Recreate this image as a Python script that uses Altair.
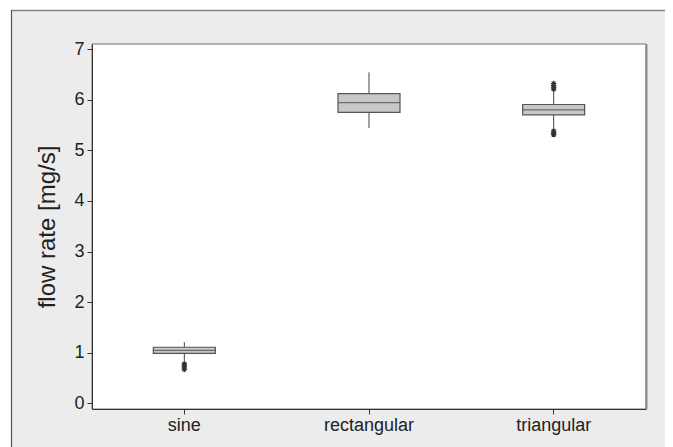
import altair as alt
import pandas as pd

categories = ["sine", "rectangular", "triangular"]
q1 = [0.99, 5.75, 5.70]
median = [1.05, 5.94, 5.80]
q3 = [1.11, 6.12, 5.905]
whisker_lo = [0.83, 5.44, 5.41]
whisker_hi = [1.21, 6.54, 6.19]

outlier_cat = ["sine", "sine", "sine", "sine",
               "triangular", "triangular", "triangular", "triangular",
               "triangular", "triangular", "triangular"]
outlier_val = [0.78, 0.74, 0.70, 0.67,
               6.21, 6.25, 6.28, 6.32,
               5.38, 5.34, 5.31]

y_ticks = [0, 1, 2, 3, 4, 5, 6, 7]

W, H = 554, 365

stats = pd.DataFrame({"cat": categories, "q1": q1, "median": median, "q3": q3,
                      "lo": whisker_lo, "hi": whisker_hi})
outl = pd.DataFrame({"cat": outlier_cat, "val": outlier_val})

FONT = "Liberation Sans"

xenc = alt.X("cat:N", sort=categories,
             scale=alt.Scale(paddingInner=0, paddingOuter=0),
             axis=alt.Axis(title=None, labelAngle=0, labelFontSize=18, labelFont=FONT,
                           labelColor="#222", tickSize=5, tickColor="#333",
                           domainColor="#333", labelPadding=2, zindex=1))
yscale = alt.Scale(domain=[-0.11, 7.1], nice=False, zero=False)
yaxis = alt.Axis(title="flow rate [mg/s]", values=y_ticks, grid=False,
                 labelFontSize=18, labelFont=FONT, labelColor="#222",
                 titleFontSize=24, titleFont=FONT, titleFontWeight="normal",
                 titleColor="#222", titlePadding=14, tickSize=5, tickColor="#333",
                 domainColor="#333", labelPadding=3, zindex=1)

base = alt.Chart(stats)
one = pd.DataFrame({"a": [0]})

bg = alt.Chart(one).mark_rect(fill="#ececec").encode(
    x=alt.value(-81), x2=alt.value(W + 200), y=alt.value(-34), y2=alt.value(H + 200))
top_border = alt.Chart(one).mark_rule(color="#858585", strokeWidth=1.5).encode(
    x=alt.value(-81), x2=alt.value(W + 200), y=alt.value(-33.5))
left_border = alt.Chart(one).mark_rule(color="#555555", strokeWidth=1.2).encode(
    x=alt.value(-80.5), y=alt.value(-34), y2=alt.value(H + 200))
plot_bg = alt.Chart(one).mark_rect(fill="white", stroke="#707070", strokeWidth=1).encode(
    x=alt.value(0), x2=alt.value(W), y=alt.value(0), y2=alt.value(H))
right_edge = alt.Chart(one).mark_rule(color="#8a8a8a", strokeWidth=2).encode(
    x=alt.value(W + 0.5), y=alt.value(0), y2=alt.value(H))

whisk_lo = base.mark_rule(color="#444", strokeWidth=1).encode(
    x=xenc, y=alt.Y("lo:Q", scale=yscale, axis=yaxis), y2="q1:Q")
whisk_hi = base.mark_rule(color="#444", strokeWidth=1).encode(
    x=xenc, y=alt.Y("q3:Q", scale=yscale, axis=yaxis), y2="hi:Q")
box = base.mark_bar(width=62, fill="#c8c8c8", stroke="#555", strokeWidth=1.2).encode(
    x=xenc, y=alt.Y("q1:Q", scale=yscale, axis=yaxis), y2="q3:Q")
med = base.mark_tick(size=62, thickness=1.2, color="#444").encode(
    x=xenc, y=alt.Y("median:Q", scale=yscale, axis=yaxis))

asterisk = "M-1,0L1,0M0,-1L0,1M-0.7,-0.7L0.7,0.7M-0.7,0.7L0.7,-0.7"
outs = alt.Chart(outl).mark_point(shape=asterisk, size=30, filled=False,
                                  stroke="#333", strokeWidth=1.2, opacity=1).encode(
    x=alt.X("cat:N", sort=categories, scale=alt.Scale(paddingInner=0, paddingOuter=0)),
    y=alt.Y("val:Q", scale=yscale))

chart = alt.layer(bg, top_border, left_border, plot_bg, right_edge,
                  whisk_lo, whisk_hi, box, med, outs).properties(
    width=W, height=H,
    autosize=alt.AutoSizeParams(type="none"),
    padding={"left": 84, "top": 36, "right": 19, "bottom": 38},
    background="white",
).configure_view(stroke=None, fill=None)

chart.save("out.html", embed_options={"renderer": "svg", "actions": False})
